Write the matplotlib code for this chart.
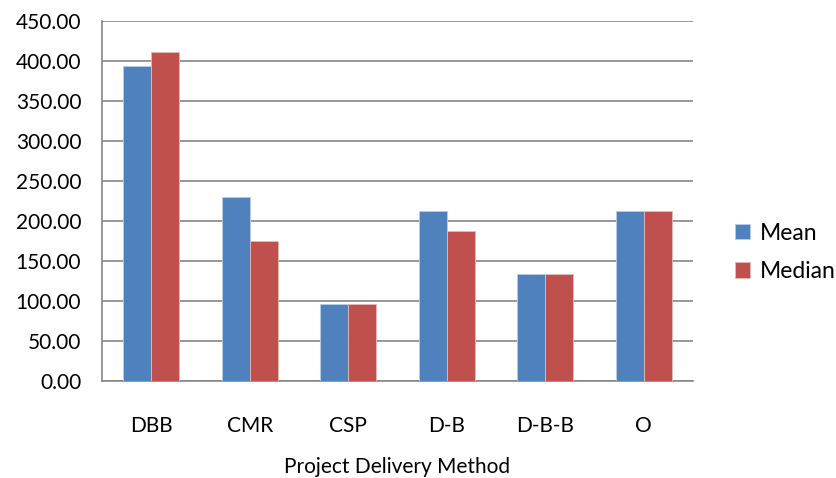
import numpy as np
import matplotlib.pyplot as plt

plt.rcParams['font.family'] = ['Lato', 'DejaVu Sans']

# mean and median per delivery method
methods = ['DBB', 'CMR', 'CSP', 'D-B', 'D-B-B', 'O']
mean_vals = [393.0, 230.4, 96.5, 212.2, 134.3, 212.2]
median_vals = [411.0, 174.7, 96.5, 187.6, 134.3, 212.2]

fig = plt.figure(figsize=(8.37, 4.78), dpi=100)
ax = fig.add_axes([0.1219, 0.2023, 0.828 - 0.1219, 0.9567 - 0.2023])

x = np.arange(len(methods))
w = 1 / 3.5
ax.bar(x - w / 2, mean_vals, w, color='#4F81BD', edgecolor='#B9CDE5', linewidth=0.6,
       label='Mean', zorder=3)
ax.bar(x + w / 2, median_vals, w, color='#C0504D', edgecolor='#E6B9B8', linewidth=0.6,
       label='Median', zorder=3)

ax.set_xlim(-0.5, len(methods) - 0.5)
ax.set_ylim(0, 450)
ax.set_yticks(np.arange(0, 451, 50))
ax.set_yticklabels(['%.2f' % v for v in np.arange(0, 451, 50)])
ax.set_xticks(x)
ax.set_xticklabels(methods)

ax.grid(axis='y', color='#868686', linewidth=1.2, zorder=0)
for s in ['top', 'right']:
    ax.spines[s].set_visible(False)
for s in ['left', 'bottom']:
    ax.spines[s].set_color('#868686')
    ax.spines[s].set_linewidth(1.2)
ax.tick_params(axis='y', length=0, pad=15, labelsize=15)
ax.tick_params(axis='x', length=0, pad=25, labelsize=15)

ax.set_xlabel('Project Delivery Method', fontsize=15, va='center')
ax.xaxis.set_label_coords(0.5, -0.237)

ax.legend(loc='center left', bbox_to_anchor=(0.878, 0.472), bbox_transform=fig.transFigure,
          frameon=False, fontsize=16.5, handlelength=0.65, handleheight=0.65,
          handletextpad=0.45, labelspacing=0.75, borderpad=0, borderaxespad=0)

fig.savefig('out.png', dpi=100)
